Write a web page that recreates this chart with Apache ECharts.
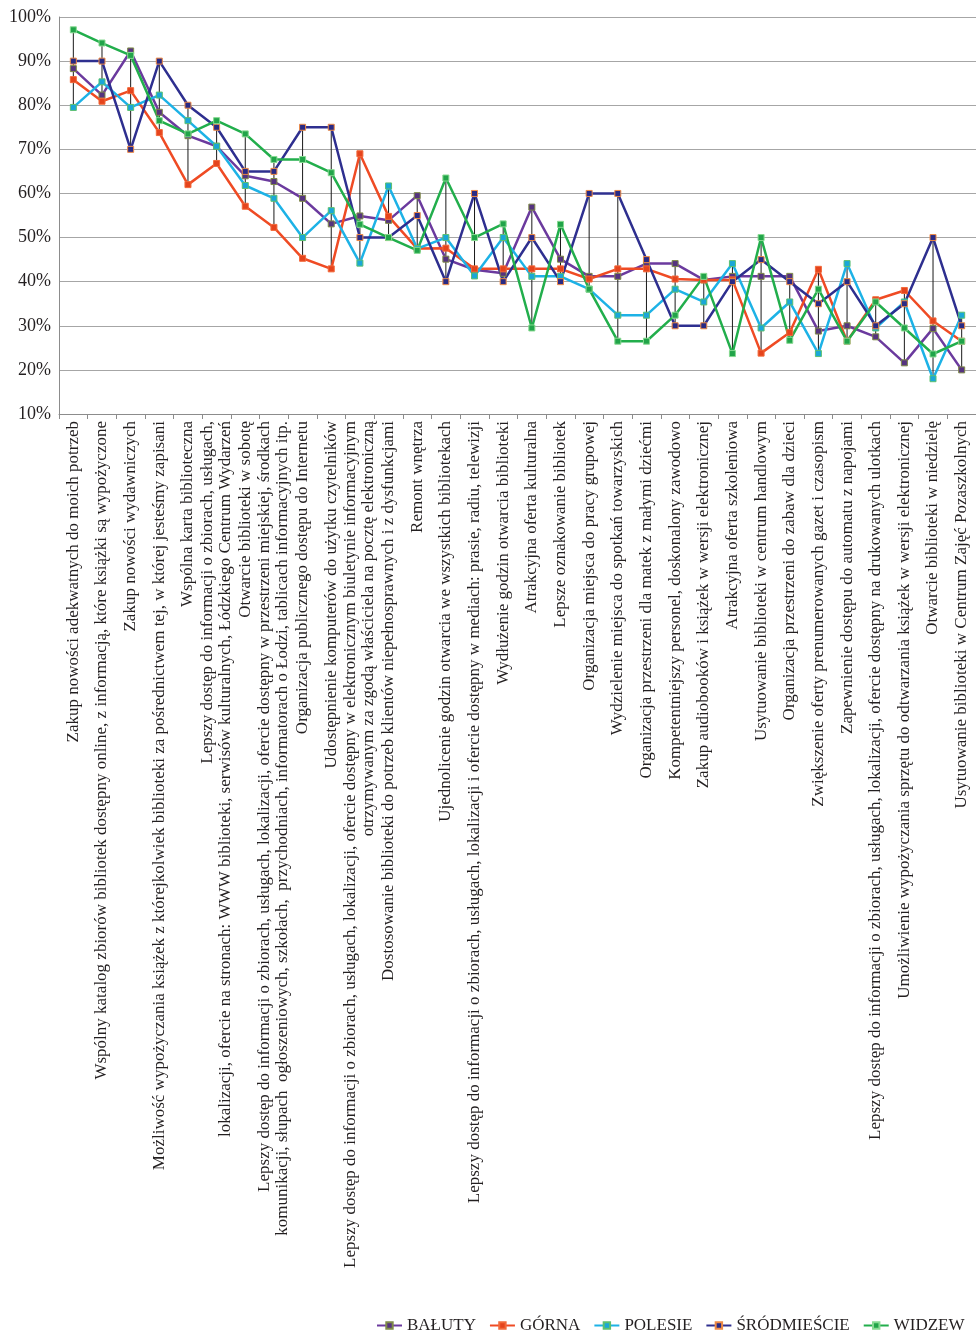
<!DOCTYPE html>
<html>
<head>
<meta charset="utf-8">
<script src="https://cdn.jsdelivr.net/npm/echarts@6/dist/echarts.min.js"></script>
<style>
  html, body { margin: 0; padding: 0; background: #fff; }
  #chart { width: 976px; height: 1333px; }
</style>
</head>
<body>
<div id="chart"></div>
<script>
// Oczekiwane zmiany w bibliotekach – odsetek wskazań według dzielnic
const categories = [
  'Zakup nowości adekwatnych do moich potrzeb',
  'Wspólny katalog zbiorów bibliotek dostępny online, z informacją, które książki są wypożyczone',
  'Zakup nowości wydawniczych',
  'Możliwość wypożyczania książek z którejkolwiek biblioteki za pośrednictwem tej, w której jesteśmy zapisani',
  'Wspólna karta biblioteczna',
  'Lepszy dostęp do informacji o zbiorach, usługach,\nlokalizacji, ofercie na stronach: WWW biblioteki, serwisów kulturalnych, Łódzkiego Centrum Wydarzeń',
  'Otwarcie biblioteki w sobotę',
  'Lepszy dostęp do informacji o zbiorach, usługach, lokalizacji, ofercie dostępny w przestrzeni miejskiej, środkach\nkomunikacji, słupach  ogłoszeniowych, szkołach,  przychodniach, informatorach o Łodzi, tablicach informacyjnych itp.',
  'Organizacja publicznego dostępu do Internetu',
  'Udostępnienie komputerów do użytku czytelników',
  'Lepszy dostęp do informacji o zbiorach, usługach, lokalizacji, ofercie dostępny w elektronicznym biuletynie informacyjnym\notrzymywanym za zgodą właściciela na pocztę elektroniczną',
  'Dostosowanie biblioteki do potrzeb klientów niepełnosprawnych i z dysfunkcjami',
  'Remont wnętrza',
  'Ujednolicenie godzin otwarcia we wszystkich bibliotekach',
  'Lepszy dostęp do informacji o zbiorach, usługach, lokalizacji i ofercie dostępny w mediach: prasie, radiu, telewizji',
  'Wydłużenie godzin otwarcia biblioteki',
  'Atrakcyjna oferta kulturalna',
  'Lepsze oznakowanie bibliotek',
  'Organizacja miejsca do pracy grupowej',
  'Wydzielenie miejsca do spotkań towarzyskich',
  'Organizacja przestrzeni dla matek z małymi dziećmi',
  'Kompetentniejszy personel, doskonalony zawodowo',
  'Zakup audiobooków i książek w wersji elektronicznej',
  'Atrakcyjna oferta szkoleniowa',
  'Usytuowanie biblioteki w centrum handlowym',
  'Organizacja przestrzeni do zabaw dla dzieci',
  'Zwiększenie oferty prenumerowanych gazet i czasopism',
  'Zapewnienie dostępu do automatu z napojami',
  'Lepszy dostęp do informacji o zbiorach, usługach, lokalizacji, ofercie dostępny na drukowanych ulotkach',
  'Umożliwienie wypożyczania sprzętu do odtwarzania książek w wersji elektronicznej',
  'Otwarcie biblioteki w niedzielę',
  'Usytuowanie biblioteki w Centrum Zajęć Pozaszkolnych'
];

const seriesNames = ['BAŁUTY', 'GÓRNA', 'POLESIE', 'ŚRÓDMIEŚCIE', 'WIDZEW'];

const baluty = [88.3, 82.3, 92.3, 78.4, 73.1, 70.7, 64.0, 62.7, 58.9, 53.1, 54.9, 53.9, 59.5, 45.1, 42.7, 41.9,
                56.9, 45.1, 41.2, 41.2, 44.1, 44.1, 40.4, 41.2, 41.2, 41.2, 28.8, 30.0, 27.5, 21.6, 29.4, 20.0];
const gorna = [85.8, 80.9, 83.3, 73.8, 62.0, 66.8, 57.1, 52.3, 45.3, 42.9, 69.0, 54.8, 47.5, 47.6, 42.9, 42.9,
               42.9, 42.9, 40.6, 42.9, 42.9, 40.6, 40.4, 40.4, 23.8, 28.5, 42.8, 26.5, 35.9, 38.0, 31.1, 26.5];
const polesie = [79.5, 85.3, 79.5, 82.3, 76.5, 70.7, 61.8, 58.9, 50.0, 56.1, 44.2, 61.7, 47.5, 50.0, 41.3, 50.0,
                 41.2, 41.2, 38.3, 32.4, 32.4, 38.3, 35.4, 44.1, 29.5, 35.4, 23.7, 44.1, 29.5, 35.4, 18.0, 32.4];
const srodmiescie = [90, 90, 70, 90, 80, 75, 65, 65, 75, 75, 50, 50, 55, 40, 60, 40,
                     50, 40, 60, 60, 45, 30, 30, 40, 45, 40, 35, 40, 30, 35, 50, 30];
const widzew = [97.1, 94.1, 91.3, 76.5, 73.5, 76.5, 73.5, 67.7, 67.7, 64.7, 53.0, 50.0, 47.1, 63.5, 50.0, 53.1,
                29.5, 53.0, 38.3, 26.5, 26.5, 32.4, 41.2, 23.7, 50.0, 26.7, 38.3, 26.5, 35.4, 29.5, 23.6, 26.5];

const yTicks = { min: 10, max: 100, step: 10 };

const allSeries = [baluty, gorna, polesie, srodmiescie, widzew];
const styles = [
  { line: '#6b3a9e', fill: '#55337f', border: '#7f8b48' },
  { line: '#ef4b24', fill: '#e5441d', border: '#f2693a' },
  { line: '#1db2e6', fill: '#1aa7d8', border: '#5cc070' },
  { line: '#2e2f8f', fill: '#292a85', border: '#ee8a45' },
  { line: '#22ae4c', fill: '#21a449', border: '#86d990' }
];

// high-low range per category
const ranges = categories.map((_, i) => {
  const vals = allSeries.map(s => s[i]);
  return [i, Math.min(...vals), Math.max(...vals)];
});

const FONT = '"Liberation Serif", "DejaVu Serif", serif';

const chart = echarts.init(document.getElementById('chart'), null, { renderer: 'canvas' });

const lineSeries = seriesNames.map((name, k) => ({
  name: name,
  type: 'line',
  data: allSeries[k],
  symbol: 'rect',
  symbolSize: 6,
  z: 3,
  lineStyle: { color: styles[k].line, width: 2.5 },
  itemStyle: { color: styles[k].fill, borderColor: styles[k].border, borderWidth: 1 },
  emphasis: { disabled: true },
  animation: false
}));

chart.setOption({
  animation: false,
  backgroundColor: '#ffffff',
  grid: { left: 59, top: 17, width: 918, height: 397, containLabel: false },
  legend: {
    data: seriesNames,
    left: 376,
    top: 1317,
    width: 600,
    padding: 0,
    itemWidth: 25,
    itemHeight: 8,
    itemGap: 13,
    textStyle: { fontFamily: FONT, fontSize: 17, color: '#231f20', padding: [0, 0, 0, 0] }
  },
  xAxis: {
    type: 'category',
    data: categories,
    boundaryGap: true,
    axisLine: { lineStyle: { color: '#8c8c8c', width: 1 } },
    axisTick: { show: true, length: 5, lineStyle: { color: '#8c8c8c' } },
    axisLabel: {
      interval: 0,
      rotate: 90,
      margin: 7,
      fontFamily: FONT,
      fontSize: 17,
      lineHeight: 18,
      color: '#231f20'
    },
    splitLine: { show: false }
  },
  yAxis: {
    type: 'value',
    min: yTicks.min,
    max: yTicks.max,
    interval: yTicks.step,
    axisLine: { show: true, lineStyle: { color: '#8c8c8c', width: 1 } },
    axisTick: { show: false },
    axisLabel: {
      formatter: '{value}%',
      margin: 8,
      fontFamily: FONT,
      fontSize: 18,
      color: '#231f20'
    },
    splitLine: { lineStyle: { color: '#a6a6a6', width: 1.2 } }
  },
  series: [
    {
      name: 'zakres',
      type: 'custom',
      z: 2,
      silent: true,
      data: ranges,
      renderItem: function (params, api) {
        const p1 = api.coord([api.value(0), api.value(1)]);
        const p2 = api.coord([api.value(0), api.value(2)]);
        return {
          type: 'line',
          shape: { x1: p1[0], y1: p1[1], x2: p2[0], y2: p2[1] },
          style: { stroke: '#1a1a1a', lineWidth: 1 }
        };
      }
    }
  ].concat(lineSeries)
});
</script>
</body>
</html>
